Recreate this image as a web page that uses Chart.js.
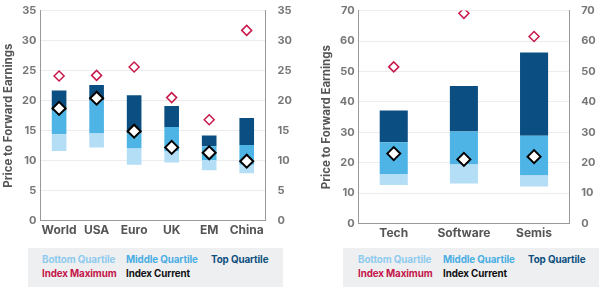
<!DOCTYPE html>
<html>
<head>
<meta charset="utf-8">
<script src="https://cdn.jsdelivr.net/npm/chart.js@4"></script>
<style>
	body { margin: 0; background: #fff; font-family: "Inter", "Roboto", sans-serif; }
	.panel { position: absolute; top: 0; width: 300px; }
	.legende { position: absolute; top: 248px; height: 39px; background: #eeeff1; font-size: 9.8px; font-weight: 700; letter-spacing: -0.1px; }
	.legende span { position: absolute; white-space: nowrap; }
</style>
</head>
<body>
<div class="panel" style="left:0"><canvas id="gauche" width="300" height="241"></canvas></div>
<div class="panel" style="left:300px"><canvas id="droite" width="300" height="244"></canvas></div>

<div class="legende" style="left:28px;width:255px">
	<span style="left:14px;top:6px;color:#8fcbee">Bottom Quartile</span>
	<span style="left:98px;top:6px;color:#4aaee3">Middle Quartile</span>
	<span style="left:183px;top:6px;color:#0e4f80">Top Quartile</span>
	<span style="left:14px;top:20px;color:#c4164a">Index Maximum</span>
	<span style="left:98px;top:20px;color:#111">Index Current</span>
</div>
<div class="legende" style="left:343px;width:256px">
	<span style="left:15px;top:6px;color:#8fcbee">Bottom Quartile</span>
	<span style="left:100px;top:6px;color:#4aaee3">Middle Quartile</span>
	<span style="left:185px;top:6px;color:#0e4f80">Top Quartile</span>
	<span style="left:15px;top:20px;color:#c4164a">Index Maximum</span>
	<span style="left:100px;top:20px;color:#111">Index Current</span>
</div>

<script>
// regions
const regions = ["World", "USA", "Euro", "UK", "EM", "China"];
const regionsMin = [11.6, 12.2, 9.3, 9.7, 8.4, 7.9];
const regionsQ1 = [14.4, 14.5, 12.0, 11.5, 10.1, 9.3];
const regionsQ2 = [18.3, 20.0, 14.5, 15.6, 12.4, 12.6];
const regionsQ3 = [21.7, 22.6, 20.9, 19.1, 14.2, 17.1];
const regionsMax = [24.1, 24.2, 25.6, 20.5, 16.8, 31.7];
const regionsCurrent = [18.7, 20.4, 14.9, 12.2, 11.3, 9.9];
const regionsTicks = [0, 5, 10, 15, 20, 25, 30, 35];

// secteurs
const secteurs = ["Tech", "Software", "Semis"];
const secteursMin = [12.7, 13.2, 12.2];
const secteursQ1 = [16.3, 19.4, 15.8];
const secteursQ2 = [26.7, 30.3, 28.9];
const secteursQ3 = [37.2, 45.2, 56.2];
const secteursMax = [51.5, 69.1, 61.5];
const secteursCurrent = [23.0, 21.1, 22.0];
const secteursTicks = [0, 10, 20, 30, 40, 50, 60, 70];

const police = "'Inter', 'Roboto', sans-serif";
const gris = "#777";

function plages(bas, haut) {
	const res = [];
	for (let i = 0; i < bas.length; i++) {
		res.push([bas[i], haut[i]]);
	}
	return res;
}

function afficherGraphique(domElement, labels, min, q1, q2, q3, max, current, ticks, barPct, padding) {
	const haut = ticks[ticks.length - 1];
	const pas = ticks[1] - ticks[0];
	const axeY = {
		min: 0,
		max: haut,
		ticks: { stepSize: pas, color: gris, font: { family: police, size: 11, weight: "bold" }, padding: 4 },
		border: { color: "#999", width: 1 },
	};
	const barre = { type: "bar", grouped: false, barPercentage: barPct, categoryPercentage: 1, order: 2, borderWidth: 0 };
	const data = {
		labels: labels,
		datasets: [
			{ ...barre, label: "Bottom Quartile", data: plages(min, q1), backgroundColor: "#b3def5" },
			{ ...barre, label: "Middle Quartile", data: plages(q1, q2), backgroundColor: "#4eb4e6" },
			{ ...barre, label: "Top Quartile", data: plages(q2, q3), backgroundColor: "#0b4f82" },
			{
				type: "line", label: "Index Maximum", data: max, showLine: false, order: 1,
				pointStyle: "rectRot", pointRadius: 5, borderColor: "#c8194b", backgroundColor: "#fff", borderWidth: 1.5,
			},
			{
				type: "line", label: "Index Current", data: current, showLine: false, order: 0,
				pointStyle: "rectRot", pointRadius: 6.5, borderColor: "#000", backgroundColor: "#fff", borderWidth: 2,
			},
		],
	};
	const config = {
		data: data,
		options: {
			responsive: false,
			animation: false,
			layout: { padding: padding },
			plugins: { legend: { display: false }, tooltip: { enabled: false } },
			scales: {
				x: {
					grid: { display: false, drawTicks: false },
					border: { color: "#999" },
					ticks: { color: "#555", maxRotation: 0, autoSkip: false, font: { family: police, size: 12, weight: "bold" }, padding: 3 },
				},
				y: {
					...axeY,
					position: "left",
					grid: { color: "#ececec", drawTicks: false },
					title: { display: true, text: "Price to Forward Earnings", color: "#555", font: { family: police, size: 11.5, weight: "bold" }, padding: 2 },
				},
				y2: {
					...axeY,
					position: "right",
					grid: { display: false },
				},
			},
		},
	};
	new Chart(document.querySelector(domElement), config);
}

afficherGraphique("#gauche", regions, regionsMin, regionsQ1, regionsQ2, regionsQ3, regionsMax, regionsCurrent, regionsTicks, 0.39,
	{ top: 4, right: 4, left: 0, bottom: 0 });
afficherGraphique("#droite", secteurs, secteursMin, secteursQ1, secteursQ2, secteursQ3, secteursMax, secteursCurrent, secteursTicks, 0.4,
	{ top: 4, right: 0, left: 18, bottom: 0 });
</script>
</body>
</html>
